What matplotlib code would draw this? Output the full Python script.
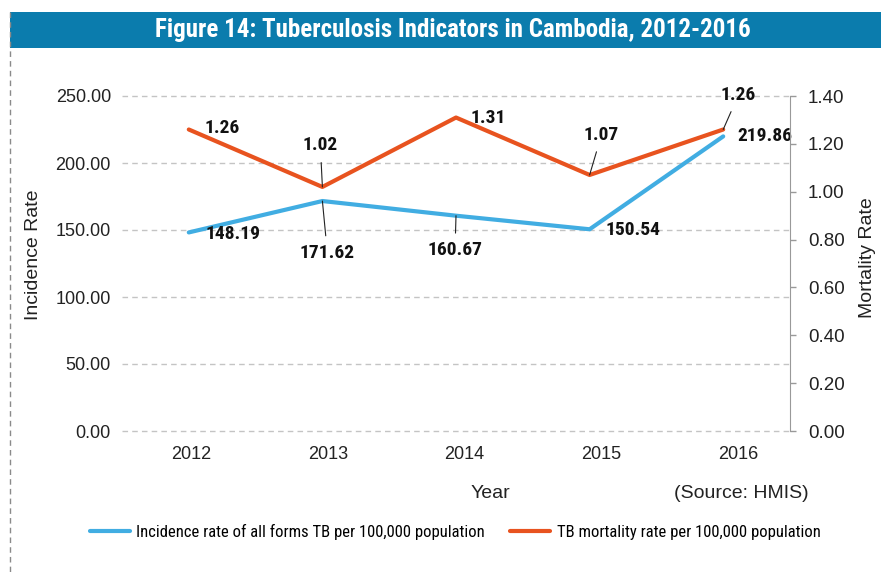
import matplotlib
matplotlib.use("Agg")
import matplotlib.pyplot as plt
from matplotlib.patches import Rectangle
from matplotlib.lines import Line2D
from matplotlib.ticker import FormatStrFormatter

# ---- data -------------------------------------------------------------
years = ["2012", "2013", "2014", "2015", "2016"]
incidence = [148.19, 171.62, 160.67, 150.54, 219.86]   # per 100,000
mortality = [1.26, 1.02, 1.31, 1.07, 1.26]             # per 100,000
left_ticks = [0, 50, 100, 150, 200, 250]
right_ticks = [0.0, 0.2, 0.4, 0.6, 0.8, 1.0, 1.2, 1.4]

title = "Figure 14: Tuberculosis Indicators in Cambodia, 2012-2016"
inc_label = "Incidence rate of all forms TB per 100,000 population"
mort_label = "TB mortality rate per 100,000 population"

BLUE = "#41ade2"
ORANGE = "#e8531f"
BAR = "#0b7cad"
NARROW = ["Roboto Condensed", "Liberation Sans", "DejaVu Sans"]
plt.rcParams["font.family"] = ["Liberation Sans", "DejaVu Sans"]

W, H = 881, 572
fig = plt.figure(figsize=(W / 100, H / 100), dpi=100)


def fx(px):
    return px / W


def fy(py):
    return 1 - py / H


# title bar and the dashed page border on the left
fig.patches.append(Rectangle((fx(10), fy(48)), fx(W - 10), 36 / H,
                             transform=fig.transFigure, color=BAR, lw=0))
fig.text(fx(453), fy(30), title, ha="center", va="center", color="white",
         fontsize=18, fontweight="bold", family=NARROW)
fig.lines.append(Line2D([fx(10), fx(10)], [fy(12), 0], transform=fig.transFigure,
                        color="#8a8a8a", lw=1, linestyle=(0, (4, 3))))

ax = fig.add_axes([fx(122), fy(431), fx(790 - 122), (431 - 96) / H])
x = list(range(len(years)))

ax.set_xlim(-0.5, len(years) - 0.5)
ax.set_ylim(0, 250)
ax.set_yticks(left_ticks)
ax.yaxis.set_major_formatter(FormatStrFormatter("%.2f"))
ax.tick_params(axis="y", length=0, pad=8, labelsize=13, colors="#222222")
ax.tick_params(axis="x", length=0, labelbottom=False)
ax.yaxis.grid(True, color="#c4c4c4", lw=1, linestyle=(0, (4, 3)))
for gl in ax.get_ygridlines():
    gl.set_clip_on(False)
ax.set_axisbelow(True)
for s in ax.spines.values():
    s.set_visible(False)

l1, = ax.plot(x, incidence, color=BLUE, lw=3, solid_capstyle="round")

ax2 = ax.twinx()
ax2.set_ylim(0, 1.4)
ax2.set_yticks(right_ticks)
ax2.yaxis.set_major_formatter(FormatStrFormatter("%.2f"))
ax2.tick_params(axis="y", length=4, width=1, color="#999999", pad=9,
                labelsize=13.5, labelcolor="#222222")
for k, s in ax2.spines.items():
    s.set_visible(k == "right")
ax2.spines["right"].set_color("#999999")

l2, = ax2.plot(x, mortality, color=ORANGE, lw=3, solid_capstyle="round")

# category labels sit on their own slightly wider scale, as in the source
ax3 = ax.twiny()
ax3.set_xlim(-0.505, 4.38)
ax3.set_xticks(x)
ax3.set_xticklabels(years)
ax3.xaxis.set_ticks_position("bottom")
ax3.xaxis.set_label_position("bottom")
ax3.tick_params(axis="x", length=0, pad=11, labelsize=13, colors="#222222")
for s in ax3.spines.values():
    s.set_visible(False)

# data labels: (offset in points, draw leader line)
ann = dict(fontsize=14, fontweight="bold", family=NARROW, ha="center",
           va="center", textcoords="offset points", color="#111111")
lead = dict(arrowstyle="-", color="#222222", lw=0.8, shrinkA=4, shrinkB=0)

mort_off = [(24, 1, False), (-1.5, 30, True), (23, 0, False),
            (8.6, 29, True), (11, 25, True)]
for xi, v, (dx, dy, line) in zip(x, mortality, mort_off):
    ax2.annotate(f"{v:.2f}", (xi, v), xytext=(dx, dy),
                 arrowprops=lead if line else None, **ann)

inc_off = [(32, -1, False), (3.6, -37.5, True), (-0.7, -25, True),
           (31, -0.5, False), (30, 0, False)]
for xi, v, (dx, dy, line) in zip(x, incidence, inc_off):
    ax.annotate(f"{v:.2f}", (xi, v), xytext=(dx, dy),
                arrowprops=lead if line else None, **ann)

fig.text(fx(33), fy(255), "Incidence Rate", rotation=90, ha="center",
         va="center", fontsize=14, color="#222222")
fig.text(fx(868), fy(258), "Mortality Rate", rotation=90, ha="center",
         va="center", fontsize=14, color="#222222")
fig.text(fx(490), fy(493), "Year", ha="center", va="center", fontsize=14,
         color="#222222")
fig.text(fx(741), fy(493), "(Source: HMIS)", ha="center", va="center",
         fontsize=14, color="#222222")

fig.legend([l1, l2], [inc_label, mort_label], loc="center",
           bbox_to_anchor=(fx(455), fy(532)), ncol=2, frameon=False,
           prop={"family": NARROW, "size": 12}, handlelength=2.4,
           columnspacing=1.5, handletextpad=0.4)

fig.savefig("out.png", dpi=100)
